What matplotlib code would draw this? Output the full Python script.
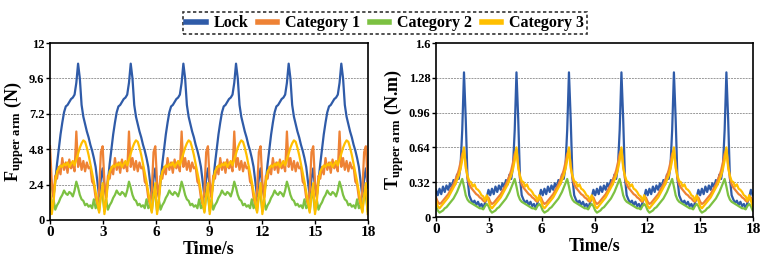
"""Upper-arm force and torque over time for the four configurations."""

import numpy as np
import matplotlib
matplotlib.use('Agg')
import matplotlib.pyplot as plt

plt.rcParams['font.family'] = 'Liberation Serif'
plt.rcParams['font.weight'] = 'bold'
plt.rcParams['mathtext.fontset'] = 'custom'
plt.rcParams['mathtext.rm'] = 'Liberation Serif:bold'
plt.rcParams['mathtext.it'] = 'Liberation Serif:bold'

period = 2.98
series_names = ['Lock', 'Category 1', 'Category 2', 'Category 3']
series_colors = ['#2F5BA8', '#EE8235', '#7CC142', '#FFBF00']

force_lock = [3.5, 2.2, 1.6, 2.6, 3.8, 4.8, 5.8, 6.6, 7.3, 7.7,
              7.8, 8.0, 8.2, 8.3, 8.5, 9.3, 10.6, 9.6, 7.8, 7.0,
              6.5, 6.0, 5.6, 5.1, 4.7, 4.2, 3.6, 2.6, 1.6, 2.8]
force_cat1 = [5.0, 2.6, 1.5, 3.0, 2.8, 3.6, 3.1, 4.2, 3.4, 3.9,
              3.2, 4.1, 3.5, 3.8, 3.3, 6.0, 3.6, 4.2, 3.4, 4.0,
              3.3, 3.9, 3.5, 3.6, 2.6, 2.4, 1.5, 1.0, 2.0, 4.6]
force_cat2 = [1.6, 0.6, 1.4, 0.7, 1.0, 1.2, 1.5, 1.7, 2.0, 1.8,
              1.7, 1.9, 1.8, 1.6, 2.0, 2.6, 2.2, 1.7, 1.4, 1.3,
              1.0, 1.1, 0.9, 1.0, 0.8, 1.4, 0.8, 1.0, 0.6, 1.8]
force_cat3 = [2.5, 0.4, 1.2, 2.6, 3.3, 3.5, 3.7, 3.6, 3.8, 3.7,
              3.9, 3.6, 3.8, 4.0, 3.7, 4.1, 4.5, 4.9, 5.2, 5.4,
              5.3, 4.9, 4.4, 3.8, 3.2, 2.6, 1.9, 1.2, 0.5, 1.6]

torque_lock = [0.25, 0.20, 0.26, 0.21, 0.28, 0.23, 0.29, 0.25, 0.31, 0.27,
               0.34, 0.30, 0.39, 0.35, 0.46, 0.80, 1.33, 0.90, 0.36, 0.20,
               0.16, 0.13, 0.15, 0.11, 0.14, 0.10, 0.12, 0.08, 0.13, 0.18]
torque_cat1 = [0.18, 0.14, 0.12, 0.13, 0.15, 0.17, 0.19, 0.21, 0.24, 0.27,
               0.30, 0.34, 0.38, 0.43, 0.50, 0.58, 0.62, 0.48, 0.36, 0.30,
               0.27, 0.25, 0.23, 0.21, 0.20, 0.18, 0.17, 0.15, 0.14, 0.17]
torque_cat2 = [0.10, 0.06, 0.04, 0.05, 0.06, 0.08, 0.09, 0.11, 0.13, 0.15,
               0.17, 0.20, 0.23, 0.27, 0.31, 0.35, 0.28, 0.20, 0.16, 0.14,
               0.13, 0.12, 0.11, 0.10, 0.09, 0.08, 0.08, 0.07, 0.10, 0.12]
torque_cat3 = [0.15, 0.10, 0.08, 0.10, 0.12, 0.14, 0.16, 0.18, 0.21, 0.24,
               0.27, 0.30, 0.34, 0.38, 0.44, 0.52, 0.64, 0.45, 0.38, 0.33,
               0.32, 0.28, 0.30, 0.26, 0.25, 0.23, 0.20, 0.19, 0.15, 0.20]

force_ticks = [0, 2.4, 4.8, 7.2, 9.6, 12]
torque_ticks = [0, 0.32, 0.64, 0.96, 1.28, 1.6]
time_ticks = [0, 3, 6, 9, 12, 15, 18]

n_cycles = 7
dt = period / len(force_lock)
t = np.arange(len(force_lock) * n_cycles) * dt
keep = t <= 18.0
t = t[keep]

fig = plt.figure(figsize=(7.7, 2.67), dpi=100)
ax1 = fig.add_axes([50 / 770, 47 / 267, 318 / 770, 177 / 267])
ax2 = fig.add_axes([436 / 770, 50 / 267, 317 / 770, 174 / 267])

panels = [
    (ax1, [force_lock, force_cat1, force_cat2, force_cat3], force_ticks,
     r'$\mathrm{F_{upper\ arm}}$ (N)'),
    (ax2, [torque_lock, torque_cat1, torque_cat2, torque_cat3], torque_ticks,
     r'$\mathrm{T_{upper\ arm}}$ (N.m)'),
]

for ax, cycles, yticks, ylabel in panels:
    for cyc, name, color in zip(cycles, series_names, series_colors):
        y = np.tile(cyc, n_cycles)[keep]
        ax.plot(t, y, color=color, lw=1.6, label=name)
    ax.set_xlim(0, 18)
    ax.set_ylim(yticks[0], yticks[-1])
    ax.set_xticks(time_ticks)
    ax.set_yticks(yticks)
    ax.set_yticklabels(['{:g}'.format(v) for v in yticks])
    for v in yticks[1:-1]:
        ax.axhline(v, color='#999999', lw=0.7, ls=(0, (2, 1)), zorder=0)
    ax.tick_params(labelsize=9, width=1, length=3, pad=1)
    ax.tick_params(axis='x', labelsize=11)
    for label in ax.get_xticklabels() + ax.get_yticklabels():
        label.set_fontweight('bold')
    for sp in ax.spines.values():
        sp.set_linewidth(1.2)
    ax.set_xlabel('Time/s', fontsize=13, fontweight='bold', labelpad=2)
    ax.set_ylabel(ylabel, fontsize=13, fontweight='bold', labelpad=2)

handles, labels = ax1.get_legend_handles_labels()
leg = fig.legend(handles, labels, loc='upper center', bbox_to_anchor=(0.5, 0.985),
                 ncol=4, frameon=True, fancybox=False,
                 handlelength=1.2, handletextpad=0.5, columnspacing=0.6,
                 borderpad=0.2, prop={'weight': 'bold', 'size': 11.5})
for line in leg.get_lines():
    line.set_linewidth(4)
frame = leg.get_frame()
frame.set_edgecolor('black')
frame.set_linestyle((0, (2, 1.5)))
frame.set_linewidth(1.2)

fig.savefig('out.png', dpi=100)
